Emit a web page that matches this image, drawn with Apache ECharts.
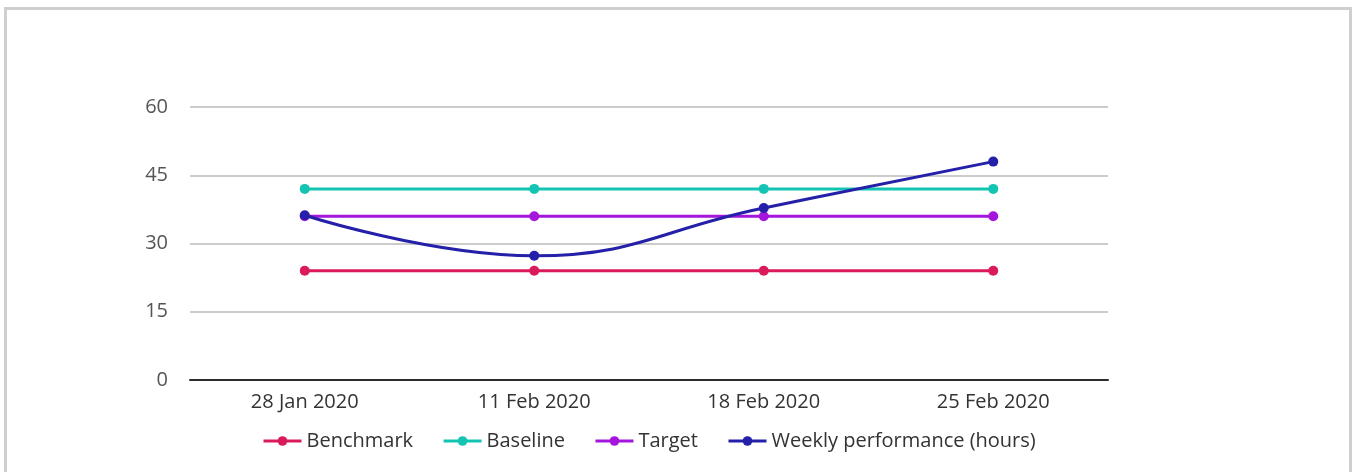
<!DOCTYPE html>
<html>
<head>
<meta charset="utf-8">
<script src="https://cdn.jsdelivr.net/npm/echarts@6/dist/echarts.min.js"></script>
<style>
  html, body { margin: 0; padding: 0; background: #fff; }
  #frame { position: absolute; left: 4px; top: 7px; width: 1342px; height: 500px; border: 3px solid #cfcfcf; box-sizing: content-box; pointer-events: none; }
  #chart { position: absolute; left: 0; top: 0; width: 1356px; height: 472px; }
</style>
</head>
<body>
<div id="chart"></div>
<div id="frame"></div>
<script>
const categories = ['28 Jan 2020', '11 Feb 2020', '18 Feb 2020', '25 Feb 2020'];
const benchmark = [24, 24, 24, 24];
const baseline = [42, 42, 42, 42];
const target = [36, 36, 36, 36];
const weekly = [36.2, 27.3, 37.8, 48];
const seriesNames = ['Benchmark', 'Baseline', 'Target', 'Weekly performance (hours)'];
const seriesColors = ['#db1a5a', '#14c4b2', '#a416dc', '#2420aa'];
const yTicks = { min: 0, max: 60, interval: 15 };

const font = '"Open Sans", "Noto Sans", sans-serif';
const chart = echarts.init(document.getElementById('chart'), null, { renderer: 'canvas' });

const dataSets = [benchmark, baseline, target, weekly];
const series = dataSets.map((d, i) => ({
  name: seriesNames[i],
  type: 'line',
  data: d,
  smooth: i === 3 ? 0.45 : false,
  symbol: 'circle',
  symbolSize: 10,
  showSymbol: true,
  color: seriesColors[i],
  lineStyle: { width: 3, color: seriesColors[i] },
  itemStyle: { color: seriesColors[i] },
  z: 2 + i
}));

chart.setOption({
  animation: false,
  textStyle: { fontFamily: font },
  grid: { left: 190, right: 248, top: 107, bottom: 92, containLabel: false },
  legend: {
    data: seriesNames,
    left: 257,
    top: 426,
    itemWidth: 38,
    itemHeight: 12,
    itemGap: 29,
    textStyle: { fontSize: 20, color: '#333', fontFamily: font },
    itemStyle: { borderWidth: 0 },
    lineStyle: { width: 3 }
  },
  xAxis: {
    type: 'category',
    data: categories,
    boundaryGap: true,
    axisLine: { show: true, lineStyle: { color: '#2b2b2b', width: 2 } },
    axisTick: { show: false },
    axisLabel: { fontSize: 20, color: '#333', margin: 12, fontFamily: font }
  },
  yAxis: {
    type: 'value',
    min: yTicks.min,
    max: yTicks.max,
    interval: yTicks.interval,
    axisLine: { show: false },
    axisTick: { show: false },
    splitLine: { lineStyle: { color: '#cccccc', width: 2 } },
    axisLabel: { fontSize: 20, color: '#555', margin: 22, fontFamily: font }
  },
  series: series
});
</script>
</body>
</html>
